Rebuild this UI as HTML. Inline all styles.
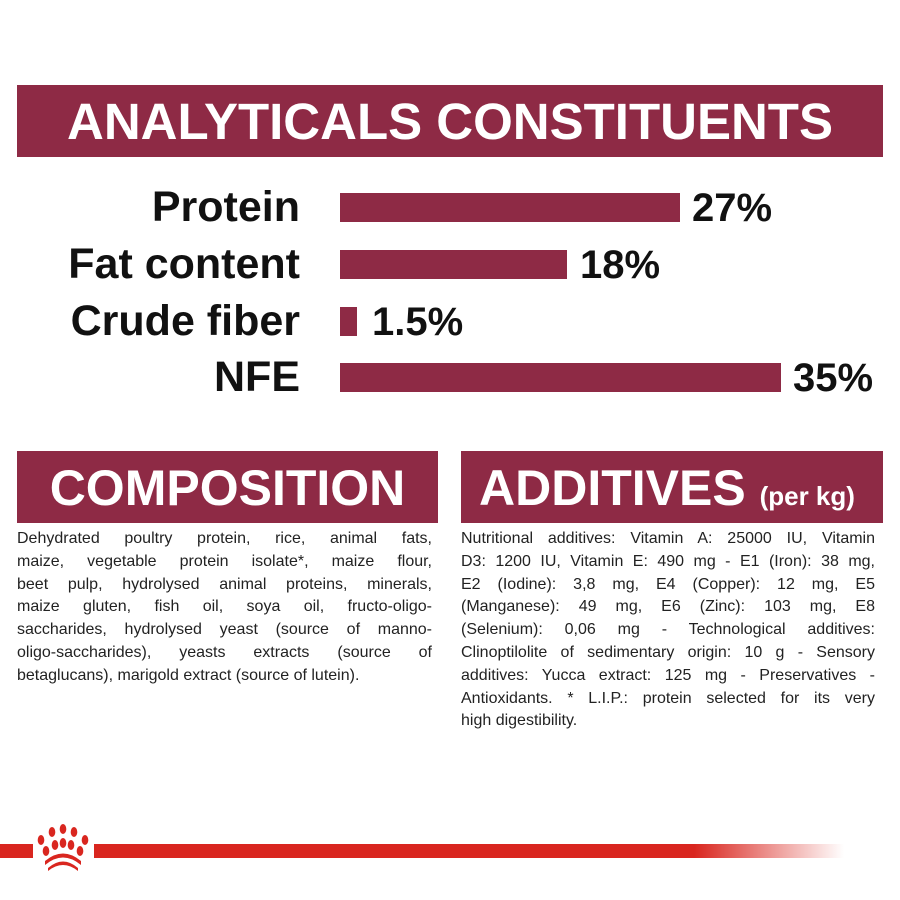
<!DOCTYPE html>
<html><head><style>
body{margin:0;width:900px;height:900px;background:#fff;position:relative;overflow:hidden;font-family:"Liberation Sans",sans-serif}
.box{position:absolute;background:#8e2a45;color:#fff;font-weight:bold;white-space:nowrap}
.lab{position:absolute;right:600px;font-weight:bold;font-size:43px;color:#111;line-height:42px}
.bar{position:absolute;left:340px;height:29px;background:#8e2a45}
.val{position:absolute;font-weight:bold;font-size:40px;color:#111;line-height:42px}
.txt{position:absolute;font-size:16px;line-height:22.8px;color:#222}
.txt div{text-align:justify;text-align-last:justify;white-space:nowrap}
.txt div.l{text-align-last:left}
</style></head><body>
<div class="box" style="left:17px;top:85px;width:866px;height:72px;font-size:51px;line-height:74px;text-align:center">ANALYTICALS CONSTITUENTS</div>
<div class="lab" style="top:186px">Protein</div>
<div class="lab" style="top:243px">Fat content</div>
<div class="lab" style="top:300px">Crude fiber</div>
<div class="lab" style="top:356px">NFE</div>
<div class="bar" style="top:193px;width:340px"></div>
<div class="bar" style="top:250px;width:227px"></div>
<div class="bar" style="top:307px;width:17px"></div>
<div class="bar" style="top:363px;width:441px"></div>
<div class="val" style="left:692px;top:187px">27%</div>
<div class="val" style="left:580px;top:244px">18%</div>
<div class="val" style="left:372px;top:301px">1.5%</div>
<div class="val" style="left:793px;top:357px">35%</div>
<div class="box" style="left:17px;top:451px;width:421px;height:72px;font-size:50px;line-height:74px;text-align:center">COMPOSITION</div>
<div class="box" style="left:461px;top:451px;width:422px;height:72px;font-size:50px;line-height:74px;padding-left:18px;box-sizing:border-box">ADDITIVES <span style="font-size:26px">(per kg)</span></div>
<div class="txt" style="left:17px;top:528px;width:415px">
<div>Dehydrated poultry protein, rice, animal fats,</div>
<div>maize, vegetable protein isolate*, maize flour,</div>
<div>beet pulp, hydrolysed animal proteins, minerals,</div>
<div>maize gluten, fish oil, soya oil, fructo-oligo-</div>
<div>saccharides, hydrolysed yeast (source of manno-</div>
<div>oligo-saccharides), yeasts extracts (source of</div>
<div class="l">betaglucans), marigold extract (source of lutein).</div>
</div>
<div class="txt" style="left:461px;top:528px;width:414px">
<div>Nutritional additives: Vitamin A: 25000 IU, Vitamin</div>
<div>D3: 1200 IU, Vitamin E: 490 mg - E1 (Iron): 38 mg,</div>
<div>E2 (Iodine): 3,8 mg, E4 (Copper): 12 mg, E5</div>
<div>(Manganese): 49 mg, E6 (Zinc): 103 mg, E8</div>
<div>(Selenium): 0,06 mg - Technological additives:</div>
<div>Clinoptilolite of sedimentary origin: 10 g - Sensory</div>
<div>additives: Yucca extract: 125 mg - Preservatives -</div>
<div>Antioxidants. * L.I.P.: protein selected for its very</div>
<div class="l">high digestibility.</div>
</div>
<div style="position:absolute;left:0;top:844px;width:33px;height:14px;background:#d9261f"></div>
<div style="position:absolute;left:94px;top:844px;width:750px;height:14px;background:linear-gradient(90deg,#d9261f 0,#d9261f 80%,rgba(217,38,31,0) 100%)"></div>
<svg style="position:absolute;left:36px;top:822px" width="56" height="52" viewBox="0 0 56 52">
<g fill="#d9261f">
<ellipse cx="5" cy="18" rx="3.3" ry="5"/><ellipse cx="16" cy="10" rx="3.3" ry="5"/><ellipse cx="27" cy="7" rx="3.3" ry="5"/><ellipse cx="38" cy="10" rx="3.3" ry="5"/><ellipse cx="49" cy="18" rx="3.3" ry="5"/>
<ellipse cx="10" cy="29" rx="3.3" ry="5"/><ellipse cx="19" cy="23" rx="3.3" ry="5"/><ellipse cx="27" cy="21" rx="3.3" ry="5"/><ellipse cx="35" cy="23" rx="3.3" ry="5"/><ellipse cx="44" cy="29" rx="3.3" ry="5"/>
<path d="M9 43 Q27 28 45 43 L45 39 Q27 24 9 39Z"/><path d="M12 49 Q27 37 42 49 L42 46 Q27 33 12 46Z"/>
</g></svg>
</body></html>
